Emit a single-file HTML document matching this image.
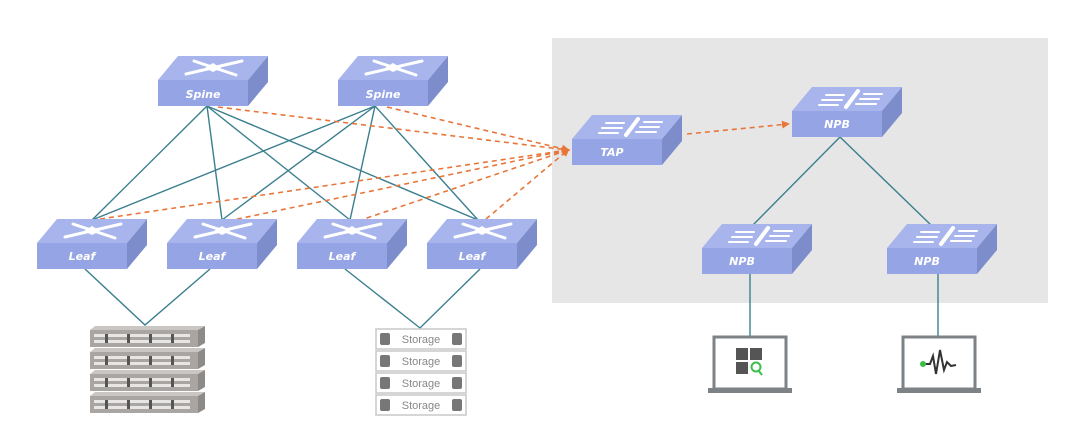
<!DOCTYPE html>
<html><head><meta charset="utf-8"><style>
html,body{margin:0;padding:0;background:#fff;width:1080px;height:436px;overflow:hidden}
text{font-family:"DejaVu Sans","Liberation Sans",sans-serif;font-style:italic;font-weight:bold;fill:#fff;font-size:11px}
.st{font-family:"Liberation Sans",sans-serif;font-style:normal;font-weight:normal;fill:#888;font-size:11px}
</style></head><body>
<svg width="1080" height="436" viewBox="0 0 1080 436" xmlns="http://www.w3.org/2000/svg">
<defs>
<marker id="ar" markerWidth="8" markerHeight="8" refX="6" refY="4" orient="auto" markerUnits="userSpaceOnUse">
<path d="M0,0 L8,4 L0,8 Z" fill="#e8763a"/></marker>
<g id="sw">
<polygon points="0,0 20,-24 110,-24 90,0" fill="#a7b5ec"/>
<polygon points="90,0 110,-24 110,2 90,26" fill="#7d8dcc"/>
<rect x="0" y="0" width="90" height="26" fill="#94a4e4"/>
</g>
<g id="xic" fill="none" stroke="#fff" stroke-width="3" stroke-linecap="round">
<line x1="28" y1="-6" x2="84" y2="-19"/><line x1="36" y1="-19" x2="78" y2="-5"/>
<polygon points="55,-17 63,-12 55,-8 47,-12" fill="#fff" stroke="none"/>
</g>
<g id="tic" stroke="#fff" stroke-linecap="round">
<line x1="54" y1="-4" x2="66" y2="-20" stroke-width="4"/>
<line x1="34" y1="-16" x2="52" y2="-16" stroke-width="2"/><line x1="30" y1="-11" x2="50" y2="-11" stroke-width="2"/><line x1="27" y1="-6" x2="46" y2="-6" stroke-width="2"/>
<line x1="72" y1="-17" x2="90" y2="-17" stroke-width="2"/><line x1="68" y1="-12" x2="87" y2="-12" stroke-width="2"/><line x1="64" y1="-7" x2="84" y2="-7" stroke-width="2"/>
</g>
</defs>
<rect x="552" y="38" width="496" height="265" fill="#e6e6e6"/>
<g stroke="#3b7f8e" stroke-width="1.4" fill="none">
<line x1="207" y1="106" x2="92" y2="220"/><line x1="207" y1="106" x2="222" y2="220"/><line x1="207" y1="106" x2="350" y2="220"/><line x1="207" y1="106" x2="478" y2="220"/>
<line x1="375" y1="106" x2="92" y2="220"/><line x1="375" y1="106" x2="222" y2="220"/><line x1="375" y1="106" x2="350" y2="220"/><line x1="375" y1="106" x2="478" y2="220"/>
<polyline points="85,269 145,325 210,269"/>
<polyline points="345,269 420,328 480,269"/>
<line x1="840" y1="137" x2="752" y2="226"/><line x1="840" y1="137" x2="932" y2="226"/>
<line x1="750" y1="273" x2="750" y2="337"/><line x1="938" y1="273" x2="938" y2="337"/>
</g>
<g stroke="#e8763a" stroke-width="1.6" stroke-dasharray="5,4" fill="none" marker-end="url(#ar)">
<line x1="218" y1="107" x2="568" y2="150"/>
<line x1="387" y1="107" x2="568" y2="150"/>
<line x1="100" y1="219" x2="568" y2="150"/>
<line x1="228" y1="221" x2="568" y2="150"/>
<line x1="358" y1="221" x2="568" y2="150"/>
<line x1="486" y1="219" x2="568" y2="150"/>
<line x1="687" y1="134" x2="788" y2="124"/>
</g>
<g transform="translate(158,80)"><use href="#sw"/><use href="#xic"/><text x="45" y="18" text-anchor="middle">Spine</text></g>
<g transform="translate(338,80)"><use href="#sw"/><use href="#xic"/><text x="45" y="18" text-anchor="middle">Spine</text></g>
<g transform="translate(37,243)"><use href="#sw"/><use href="#xic"/><text x="45" y="17" text-anchor="middle">Leaf</text></g>
<g transform="translate(167,243)"><use href="#sw"/><use href="#xic"/><text x="45" y="17" text-anchor="middle">Leaf</text></g>
<g transform="translate(297,243)"><use href="#sw"/><use href="#xic"/><text x="45" y="17" text-anchor="middle">Leaf</text></g>
<g transform="translate(427,243)"><use href="#sw"/><use href="#xic"/><text x="45" y="17" text-anchor="middle">Leaf</text></g>
<g transform="translate(572,139)"><use href="#sw"/><use href="#tic"/><text x="40" y="17" text-anchor="middle">TAP</text></g>
<g transform="translate(792,111)"><use href="#sw"/><use href="#tic"/><text x="45" y="17" text-anchor="middle">NPB</text></g>
<g transform="translate(702,248)"><use href="#sw"/><use href="#tic"/><text x="40" y="17" text-anchor="middle">NPB</text></g>
<g transform="translate(887,248)"><use href="#sw"/><use href="#tic"/><text x="40" y="17" text-anchor="middle">NPB</text></g>
<g id="srv">
<polygon points="90,330 95,326 205,326 198,330" fill="#c9c6c4"/>
<rect x="90" y="330" width="108" height="17" fill="#a9a5a2"/>
<polygon points="198,330 205,326 205,343 198,347" fill="#8e8a87"/>
<g fill="#e8e6e4"><rect x="94" y="334" width="96" height="3"/><rect x="94" y="340" width="96" height="3"/></g>
<g fill="#555"><rect x="105" y="334" width="3" height="9"/><rect x="127" y="334" width="3" height="9"/><rect x="149" y="334" width="3" height="9"/><rect x="171" y="334" width="3" height="9"/></g>
</g>
<use href="#srv" y="22"/><use href="#srv" y="44"/><use href="#srv" y="66"/>
<g id="sto">
<rect x="376" y="329" width="90" height="20" fill="#fff" stroke="#c8c8c8" stroke-width="1.5"/>
<rect x="380" y="333" width="10" height="12" rx="2" fill="#777"/><rect x="452" y="333" width="10" height="12" rx="2" fill="#777"/>
<text class="st" x="421" y="343" text-anchor="middle">Storage</text>
</g>
<use href="#sto" y="22"/><use href="#sto" y="44"/><use href="#sto" y="66"/>
<g fill="#fff" stroke="#7d8287" stroke-width="3">
<rect x="714" y="337" width="72" height="52"/><rect x="903" y="337" width="72" height="52"/>
</g>
<rect x="708" y="388" width="84" height="5" fill="#7d8287"/><rect x="897" y="388" width="84" height="5" fill="#7d8287"/>
<g fill="#555"><rect x="736" y="348" width="12" height="12"/><rect x="750" y="348" width="12" height="12"/><rect x="736" y="362" width="12" height="12"/></g>
<circle cx="756" cy="367" r="4.5" fill="none" stroke="#3cbf4a" stroke-width="2"/><line x1="758" y1="370" x2="762" y2="375" stroke="#3cbf4a" stroke-width="2"/>
<polyline points="924,364 930,364 933,356 936,374 940,350 944,370 947,362 951,366 956,365" fill="none" stroke="#333" stroke-width="2"/>
<circle cx="923" cy="364" r="3" fill="#3cbf4a"/>
</svg>
</body></html>
